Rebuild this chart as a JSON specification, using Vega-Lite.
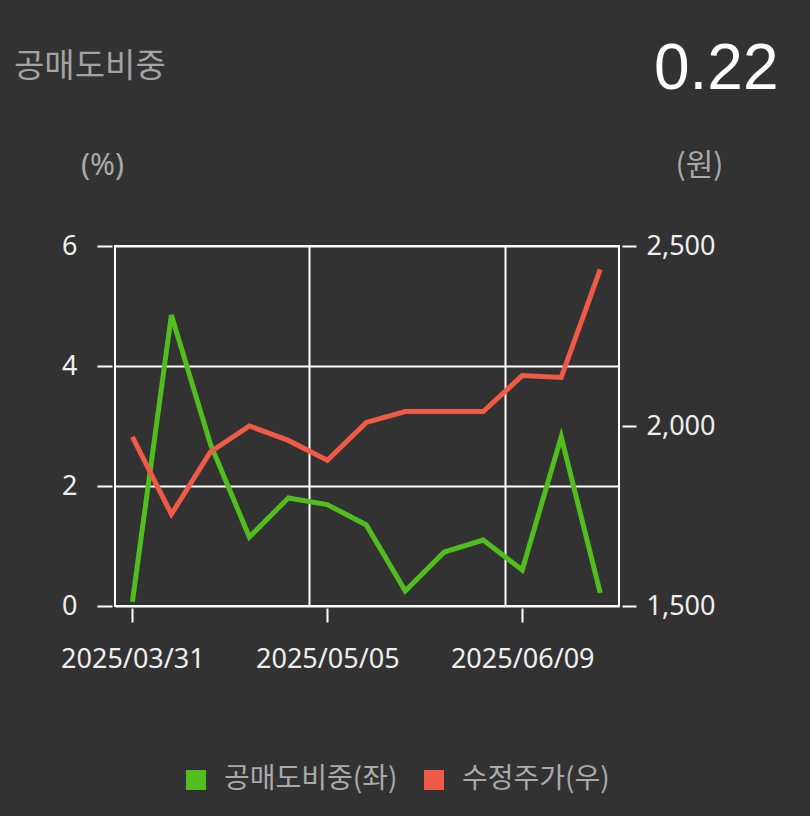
{
  "$schema": "https://vega.github.io/schema/vega-lite/v6.json",
  "autosize": {"type": "none"},
  "width": 504,
  "height": 360,
  "padding": {"left": 115, "top": 246, "right": 191, "bottom": 210},
  "background": "#323232",
  "config": {
    "view": {"stroke": "#ffffff", "strokeWidth": 2},
    "axis": {
      "labelFont": "Noto Sans",
      "labelFontSize": 27,
      "labelColor": "#eeeeee",
      "titleFont": "Noto Sans CJK KR",
      "titleFontSize": 30,
      "titleFontWeight": "normal",
      "titleColor": "#aaaaaa",
      "tickColor": "#ffffff",
      "tickWidth": 2,
      "gridColor": "#ffffff",
      "gridWidth": 2,
      "gridOpacity": 1,
      "domain": false
    }
  },
  "title": {
    "text": "공매도비중",
    "anchor": "start",
    "frame": "group",
    "dx": -101,
    "dy": 51,
    "font": "Noto Sans CJK KR",
    "fontSize": 33,
    "fontWeight": "normal",
    "color": "#a3a3a3"
  },
  "data": {
    "values": [
      {"date": "2025-03-31", "series": "공매도비중(좌)", "value": 0.07},
      {"date": "2025-04-07", "series": "공매도비중(좌)", "value": 4.85},
      {"date": "2025-04-14", "series": "공매도비중(좌)", "value": 2.7},
      {"date": "2025-04-21", "series": "공매도비중(좌)", "value": 1.15},
      {"date": "2025-04-28", "series": "공매도비중(좌)", "value": 1.8},
      {"date": "2025-05-05", "series": "공매도비중(좌)", "value": 1.69},
      {"date": "2025-05-12", "series": "공매도비중(좌)", "value": 1.35},
      {"date": "2025-05-19", "series": "공매도비중(좌)", "value": 0.25},
      {"date": "2025-05-26", "series": "공매도비중(좌)", "value": 0.9},
      {"date": "2025-06-02", "series": "공매도비중(좌)", "value": 1.1},
      {"date": "2025-06-09", "series": "공매도비중(좌)", "value": 0.6},
      {"date": "2025-06-16", "series": "공매도비중(좌)", "value": 2.82},
      {"date": "2025-06-23", "series": "공매도비중(좌)", "value": 0.22},
      {"date": "2025-03-31", "series": "수정주가(우)", "value": 1970},
      {"date": "2025-04-07", "series": "수정주가(우)", "value": 1755},
      {"date": "2025-04-14", "series": "수정주가(우)", "value": 1928},
      {"date": "2025-04-21", "series": "수정주가(우)", "value": 2000},
      {"date": "2025-04-28", "series": "수정주가(우)", "value": 1960},
      {"date": "2025-05-05", "series": "수정주가(우)", "value": 1905},
      {"date": "2025-05-12", "series": "수정주가(우)", "value": 2010},
      {"date": "2025-05-19", "series": "수정주가(우)", "value": 2040},
      {"date": "2025-05-26", "series": "수정주가(우)", "value": 2040},
      {"date": "2025-06-02", "series": "수정주가(우)", "value": 2040},
      {"date": "2025-06-09", "series": "수정주가(우)", "value": 2140},
      {"date": "2025-06-16", "series": "수정주가(우)", "value": 2135},
      {"date": "2025-06-23", "series": "수정주가(우)", "value": 2435}
    ]
  },
  "encoding": {
    "x": {
      "field": "date",
      "type": "temporal",
      "scale": {
        "type": "utc",
        "domain": [
          {"year": 2025, "month": 3, "date": 27, "hours": 21, "utc": true},
          {"year": 2025, "month": 6, "date": 26, "hours": 9, "utc": true}
        ]
      }
    },
    "color": {
      "field": "series",
      "type": "nominal",
      "scale": {
        "domain": ["공매도비중(좌)", "수정주가(우)"],
        "range": ["#52bd1e", "#ef5b47"]
      },
      "legend": {
        "title": null,
        "orient": "none",
        "direction": "horizontal",
        "legendX": 67,
        "legendY": 520,
        "symbolType": "square",
        "symbolSize": 400,
        "symbolStrokeWidth": 0,
        "labelFont": "Noto Sans CJK KR",
        "labelFontSize": 28,
        "labelColor": "#aaaaaa",
        "labelOffset": 14,
        "labelLimit": 400,
        "columnPadding": 22,
        "encode": {
          "symbols": {
            "update": {"fill": {"scale": "color", "field": "value"}}
          }
        }
      }
    }
  },
  "layer": [
    {
      "transform": [{"filter": "datum.series === '공매도비중(좌)'"}],
      "mark": {"type": "line", "strokeWidth": 5, "strokeJoin": "miter", "strokeCap": "butt"},
      "encoding": {
        "x": {
          "field": "date",
          "type": "temporal",
          "axis": {
            "orient": "bottom",
            "title": null,
            "grid": false,
            "values": [
              {"year": 2025, "month": 3, "date": 31, "utc": true},
              {"year": 2025, "month": 5, "date": 5, "utc": true},
              {"year": 2025, "month": 6, "date": 9, "utc": true}
            ],
            "format": "%Y/%m/%d",
            "tickSize": 14,
            "offset": 2,
            "labelPadding": 24
          }
        },
        "y": {
          "field": "value",
          "type": "quantitative",
          "scale": {"domain": [0, 6], "nice": false},
          "axis": {
            "orient": "left",
            "title": "(%)",
            "values": [0, 2, 4, 6],
            "grid": true,
            "tickSize": 15,
            "offset": 3,
            "labelPadding": 20,
            "titleAngle": 0,
            "titleAlign": "center",
            "titleBaseline": "middle",
            "titleFont": "Noto Sans",
            "titleX": -10,
            "titleY": -81
          }
        }
      }
    },
    {
      "transform": [{"filter": "datum.series === '수정주가(우)'"}],
      "mark": {"type": "line", "strokeWidth": 5, "strokeJoin": "miter", "strokeCap": "butt"},
      "encoding": {
        "x": {
          "field": "date",
          "type": "temporal",
          "axis": {
            "orient": "top",
            "title": "0.22",
            "values": [
              {"year": 2025, "month": 5, "date": 1, "hours": 18, "utc": true},
              {"year": 2025, "month": 6, "date": 5, "hours": 20, "utc": true}
            ],
            "grid": true,
            "ticks": false,
            "labels": false,
            "titleFont": "Liberation Sans",
            "titleFontSize": 64,
            "titleColor": "#ffffff",
            "titleAlign": "right",
            "titleBaseline": "alphabetic",
            "titleAnchor": null,
            "titleX": 663,
            "titleY": -158
          }
        },
        "y": {
          "field": "value",
          "type": "quantitative",
          "scale": {"domain": [1500, 2500], "nice": false},
          "axis": {
            "orient": "right",
            "title": "(원)",
            "values": [1500, 2000, 2500],
            "format": ",d",
            "grid": false,
            "tickSize": 14,
            "offset": 3,
            "labelPadding": 10,
            "titleAngle": 0,
            "titleAlign": "center",
            "titleBaseline": "middle",
            "titleX": 77,
            "titleY": -81
          }
        }
      }
    }
  ],
  "resolve": {
    "scale": {"y": "independent"},
    "axis": {"x": "independent", "y": "independent"}
  }
}
